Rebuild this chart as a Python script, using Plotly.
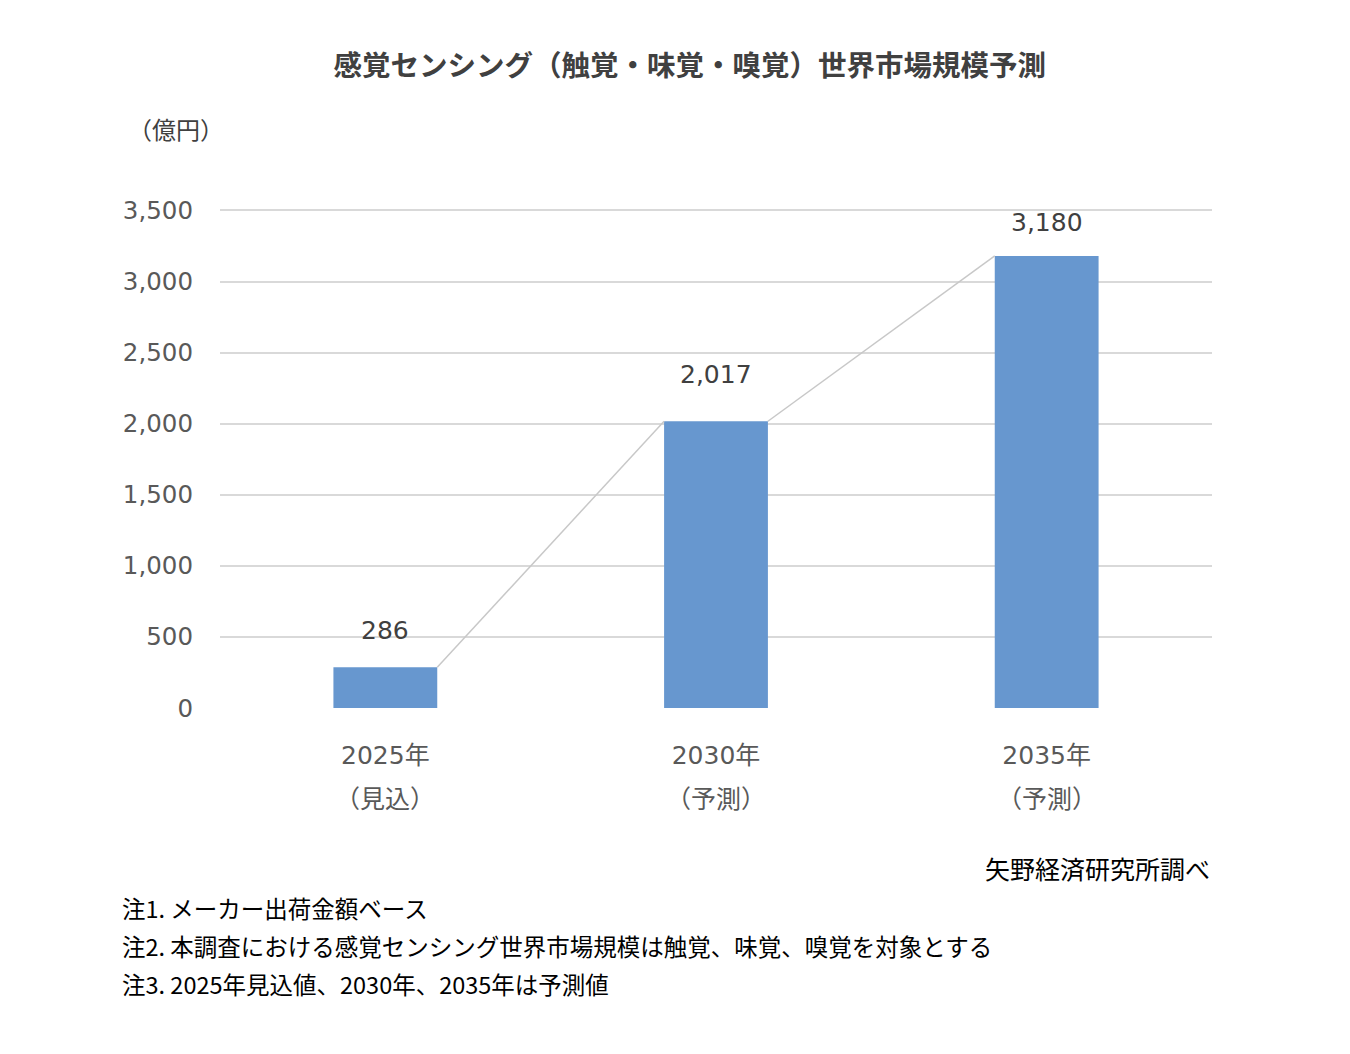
import plotly.graph_objects as go

# data
years = ["2025年", "2030年", "2035年"]
sub_labels = ["（見込）", "（予測）", "（予測）"]
values = [286, 2017, 3180]
value_labels = ["286", "2,017", "3,180"]
y_ticks = [0, 500, 1000, 1500, 2000, 2500, 3000, 3500]
notes = ["注1. メーカー出荷金額ベース",
         "注2. 本調査における感覚センシング世界市場規模は触覚、味覚、嗅覚を対象とする",
         "注3. 2025年見込値、2030年、2035年は予測値"]

bar_w = 0.314
num_font = "DejaVu Sans, Noto Sans CJK JP"
jp_font = "Noto Sans CJK JP"
xs = list(range(len(years)))

fig = go.Figure()

# series lines between bar tops (Excel style)
for i in range(len(values) - 1):
    fig.add_trace(go.Scatter(
        x=[xs[i] + bar_w / 2, xs[i + 1] - bar_w / 2],
        y=[values[i], values[i + 1]],
        mode="lines", line=dict(color="#c8c8c8", width=1.5),
        hoverinfo="skip", showlegend=False))

fig.add_trace(go.Bar(x=xs, y=values, width=bar_w, marker_color="#6797cf",
                     marker_line_width=0, showlegend=False))

# value labels
label_shift = [37, 47, 33]
for x, v, t, s in zip(xs, values, value_labels, label_shift):
    fig.add_annotation(x=x, y=v, text=t, showarrow=False, yshift=s, yanchor="middle",
                       font=dict(family=num_font, size=25, color="#404040"))

# second line of category labels
for x, t in zip(xs, sub_labels):
    fig.add_annotation(x=x, y=-0.178, xref="x", yref="paper", text=t, showarrow=False,
                       yanchor="middle",
                       font=dict(family=jp_font, size=25, color="#595959"))

fig.add_annotation(x=-0.095, y=1.162, xref="paper", yref="paper", text="（億円）",
                   showarrow=False, xanchor="left", yanchor="middle",
                   font=dict(family=jp_font, size=24, color="#404040"))

fig.add_annotation(x=1.0, y=-0.321, xref="paper", yref="paper", text="矢野経済研究所調べ",
                   showarrow=False, xanchor="right", yanchor="middle",
                   font=dict(family=jp_font, size=25, color="#000000"))

for i, n in enumerate(notes):
    fig.add_annotation(x=-0.101, y=-0.401 - i * 0.076, xref="paper", yref="paper", text=n,
                       showarrow=False, xanchor="left", yanchor="middle",
                       font=dict(family=jp_font, size=23.5, color="#000000"))

fig.update_layout(
    width=1350, height=1054,
    margin=dict(l=212, r=146, t=201, b=354),
    paper_bgcolor="white", plot_bgcolor="white",
    title=dict(text="<b>感覚センシング（触覚・味覚・嗅覚）世界市場規模予測</b>",
               x=0.505, xanchor="center", y=0.945, yanchor="middle",
               font=dict(family=jp_font, size=28.5, color="#404040")),
    xaxis=dict(range=[-0.5, 2.5], tickvals=xs, ticktext=years, showgrid=False,
               zeroline=False, showline=False, ticks="", ticklabelstandoff=30,
               tickfont=dict(family=num_font, size=25, color="#595959")),
    yaxis=dict(range=[0, 3510], tickvals=y_ticks, tickformat=",", showgrid=True,
               gridcolor="#d9d9d9", gridwidth=1.5, zeroline=False, showline=False,
               ticks="", ticklabelstandoff=26,
               tickfont=dict(family=num_font, size=24.5, color="#595959")),
)

fig.write_html("out.html")
